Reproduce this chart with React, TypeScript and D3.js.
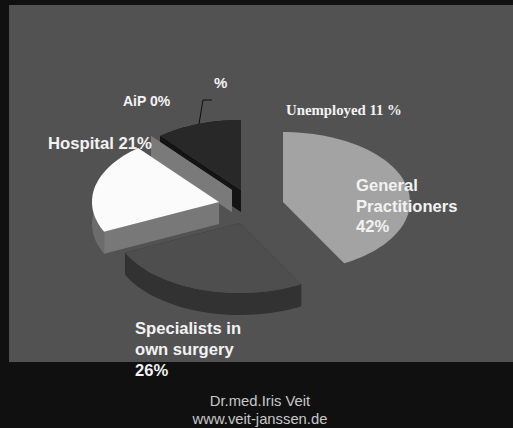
import React from "react";
import * as d3 from "d3";

// Share of physicians by place of work, in percent, clockwise from 12 o'clock.
const sliceNames = ["General Practitioners", "Specialists in own surgery", "Hospital", "AiP", "Unemployed"];
const sliceValues = [42, 26, 21, 0, 11];

// Fill per slice: top face, outer rim, cut face.
const topFills = ["#a3a3a3", "#4e4e4e", "#fbfbfb", "#7a7a7a", "#282828"];
const rimFills = ["none", "#323232", "#6c6c6c", "#7a7a7a", "#141414"];
const cutFills = ["none", "#323232", "#787878", "#7a7a7a", "#141414"];

// Exploded apex of each slice on the page.
const apexX = [283, 240, 219, 232, 241];
const apexY = [202, 223, 202, 190, 190];

const WIDTH = 513;
const HEIGHT = 428;
const RX = 127;
const RY = 70;
const DEPTH = 22;

const pieLayout = d3.pie<number>().sort(null).startAngle(0).endAngle(2 * Math.PI);
const arcs = pieLayout(sliceValues);

const path = d3.line<[number, number]>();

// Tilted-disc projection: x follows sin of the angle, y follows -cos.
const scaleEdge = (a: number): [number, number] => [RX * Math.sin(a), -RY * Math.cos(a)];

const rimPoints = (a0: number, a1: number, cx: number, cy: number, dy = 0): [number, number][] => {
  const steps = Math.max(1, Math.ceil((a1 - a0) / 0.04));
  return d3.range(steps + 1).map((i) => {
    const [x, y] = scaleEdge(a0 + ((a1 - a0) * i) / steps);
    return [cx + x, cy + y + dy];
  });
};

function Slice({ i }: { i: number }) {
  const { startAngle, endAngle } = arcs[i];
  const cx = apexX[i];
  const cy = apexY[i];
  const top = rimPoints(startAngle, endAngle, cx, cy);
  const rim = [...top, ...top.slice().reverse().map(([x, y]) => [x, y + DEPTH] as [number, number])];
  const a = top[0];
  const b = top[top.length - 1];
  const apex: [number, number] = [cx, cy];
  const down = (p: [number, number]): [number, number] => [p[0], p[1] + DEPTH];
  const isZero = sliceValues[i] === 0;
  return (
    <g>
      {cutFills[i] !== "none" && (
        <>
          <path d={path([apex, a, down(a), down(apex)]) + "Z"} fill={cutFills[i]} />
          <path d={path([apex, b, down(b), down(apex)]) + "Z"} fill={cutFills[i]} />
        </>
      )}
      {rimFills[i] !== "none" && !isZero && <path d={path(rim) + "Z"} fill={rimFills[i]} />}
      {!isZero && <path d={path([apex, ...top]) + "Z"} fill={topFills[i]} />}
    </g>
  );
}

const boldSans: React.CSSProperties = { fontFamily: "Liberation Sans", fontWeight: 700 };
const drawOrder = [1, 0, 4, 3, 2];

export default function App() {
  return (
    <svg
      width={WIDTH}
      height={HEIGHT}
      viewBox={`0 0 ${WIDTH} ${HEIGHT}`}
      style={{ position: "absolute", left: 0, top: 0 }}
      role="img"
      aria-label={sliceNames.join(", ")}
    >
      <rect width={WIDTH} height={HEIGHT} fill="#101010" />
      <rect x={9} y={5} width={WIDTH - 9} height={357} fill="#525252" />

      {drawOrder.map((i) => (
        <Slice key={sliceNames[i]} i={i} />
      ))}

      {/* Leader line for the empty AiP slice */}
      <polyline points="199,124 203,100 212,100" fill="none" stroke="#0c0c0c" strokeWidth={1} />

      <g fill="#f2f2f2" style={boldSans}>
        <text x={48} y={149} fontSize={16.7}>Hospital 21%</text>
        <text x={123} y={106} fontSize={14}>AiP 0%</text>
        <text x={214} y={88} fontSize={15}>%</text>
        <text x={356} y={191} fontSize={16.6}>General</text>
        <text x={356} y={212} fontSize={16.6}>Practitioners</text>
        <text x={356} y={232} fontSize={16.6}>42%</text>
        <text x={135} y={334} fontSize={16.6}>Specialists in</text>
        <text x={135} y={355} fontSize={16.6}>own surgery</text>
        <text x={135} y={376} fontSize={16.6}>26%</text>
      </g>
      <text x={286} y={115} fontSize={14.8} fill="#f2f2f2" fontFamily="Liberation Serif" fontWeight={700}>
        Unemployed 11 %
      </text>

      <g fill="#c8c8c8" fontFamily="Liberation Sans" fontSize={14.8} textAnchor="middle">
        <text x={260} y={406}>Dr.med.Iris Veit</text>
        <text x={260} y={424}>www.veit-janssen.de</text>
      </g>
    </svg>
  );
}
